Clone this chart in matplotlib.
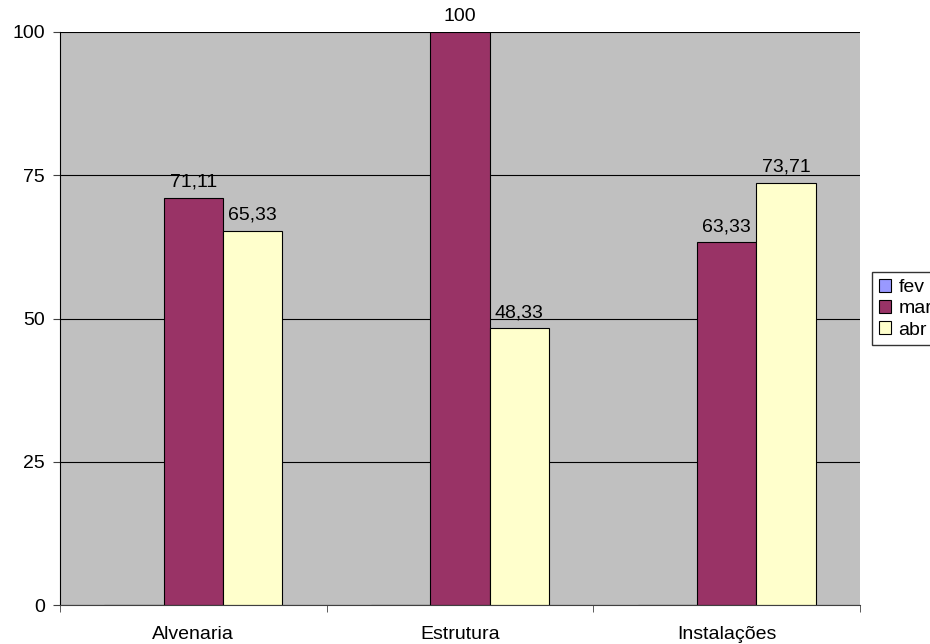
import numpy as np
import matplotlib.pyplot as plt
from matplotlib.ticker import FixedLocator

plt.rcParams['font.family'] = ['Liberation Sans', 'DejaVu Sans']

categorias = ["Alvenaria", "Estrutura", "Instalações"]
series = ["fev", "mar", "abr"]
fev = [0, 0, 0]
mar = [71.11, 100, 63.33]
abr = [65.33, 48.33, 73.71]
cores = ["#9999FF", "#993366", "#FFFFCC"]

fig = plt.figure(figsize=(9.3, 6.44), dpi=100)
ax = fig.add_axes([60 / 930, 39 / 644, 800 / 930, 573 / 644])
ax.set_facecolor("#C0C0C0")

x = np.arange(len(categorias))
w = 1 / 4.5
valores = [fev, mar, abr]
for i, (nome, vals, cor) in enumerate(zip(series, valores, cores)):
    pos = x + (i - 1) * w
    ax.bar(pos, vals, width=w, color=cor, edgecolor="black", linewidth=0.8,
           label=nome, zorder=3)
    if nome == "fev":
        continue
    for p, v in zip(pos, vals):
        txt = f"{v:g}".replace(".", ",")
        ax.annotate(txt, (p, v), xytext=(0, 5), textcoords="offset points",
                    ha="center", va="bottom", fontsize=14, zorder=4,
                    annotation_clip=False)

ax.set_xlim(-0.5, 2.5)
ax.set_ylim(0, 100)
ax.set_yticks([0, 25, 50, 75, 100])
ax.yaxis.grid(True, color="black", linewidth=0.8, zorder=1)
ax.set_xticks(x)
ax.set_xticklabels(categorias, fontsize=14)
ax.tick_params(axis="x", which="major", length=0, pad=15)
ax.xaxis.set_minor_locator(FixedLocator([-0.5, 0.5, 1.5, 2.5]))
ax.tick_params(axis="x", which="minor", length=5, color="#404040")
ax.tick_params(axis="y", length=5, labelsize=14, color="#404040", pad=6)

for s in ["top", "right"]:
    ax.spines[s].set_visible(False)
ax.spines["left"].set_color("black")
ax.spines["bottom"].set_color("#404040")
ax.spines["bottom"].set_zorder(5)

fig.legend(loc="upper left", bbox_to_anchor=(872 / 930, 1 - 272 / 644),
           fontsize=14, frameon=True, fancybox=False, edgecolor="black",
           handlelength=0.65, handleheight=0.65, handletextpad=0.35,
           labelspacing=0.2, borderpad=0.35, borderaxespad=0)

fig.savefig("out.png", dpi=100)
